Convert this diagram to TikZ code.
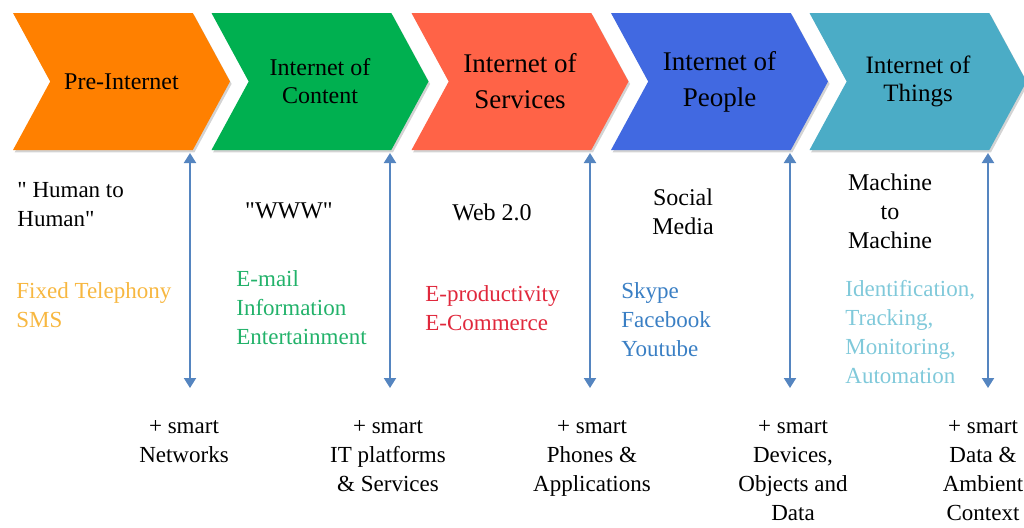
\documentclass[tikz,border=0pt]{standalone}
\usepackage{fontspec}
\setmainfont{Liberation Serif}
\newfontfamily\plainserif{Liberation Serif}
\usepackage{tikz}
\usetikzlibrary{shapes.symbols, arrows.meta, positioning, shadows}
\definecolor{PreOrange}{HTML}{FF8000}
\definecolor{ContentGreen}{HTML}{00B050}
\definecolor{ServiceRed}{HTML}{FF6347}
\definecolor{PeopleBlue}{HTML}{4169E1}
\definecolor{ThingsTeal}{HTML}{4BACC6}
\definecolor{LinkBlue}{HTML}{5585C0}
\definecolor{TelephonyGold}{HTML}{F7B740}
\definecolor{WebGreen}{HTML}{22B26A}
\definecolor{CommerceRed}{HTML}{E0283C}
\definecolor{SocialBlue}{HTML}{3A7FC4}
\definecolor{MachineCyan}{HTML}{80C9DA}
\newcommand{\dq}{{\plainserif"}}

\begin{document}
\begin{tikzpicture}[x=0.5pt, y=-0.5pt,
    phase/.style={signal, signal to=east, signal from=west,
        signal pointer angle=123, minimum width=108.5pt, minimum height=68.5pt,
        inner sep=0pt, align=center, text=black,
        drop shadow={shadow xshift=0.8pt, shadow yshift=-1.2pt, opacity=0.35}},
    body/.style={inner sep=0pt, font=\fontsize{11.5}{14.5}\selectfont},
    keyword/.style={body, anchor=north, align=center,
        font=\fontsize{12}{14.5}\selectfont},
    usage/.style={body, anchor=north west, align=left},
    smart/.style={body, anchor=north, align=center},
    divider/.style={draw=LinkBlue, line width=1pt,
        {Triangle[width=6pt,length=5pt]}-{Triangle[width=6pt,length=5pt]}}]
\useasboundingbox (0,0) rectangle (1024,527);

\node[phase, fill=PreOrange, font=\fontsize{12}{14}\selectfont]
    (pre) at (121.5,81.5) {Pre-Internet};
\node[phase, fill=ContentGreen, font=\fontsize{12}{14}\selectfont]
    (content) at (320,81.5) {Internet of\\Content};
\node[phase, fill=ServiceRed, font=\fontsize{13.5}{18}\selectfont]
    (services) at (520,81.5) {Internet of\\Services};
\node[phase, fill=PeopleBlue, font=\fontsize{13.5}{18}\selectfont]
    (people) at (719.5,81.5) {Internet of\\People};
\node[phase, fill=ThingsTeal, font=\fontsize{12.5}{14}\selectfont]
    (things) at (918,81.5) {Internet of\\Things};

\coordinate (top1) at (190,153);
\coordinate (bot1) at (190,388);
\coordinate (top2) at (390,153);
\coordinate (bot2) at (390,388);
\coordinate (top3) at (590,153);
\coordinate (bot3) at (590,388);
\coordinate (top4) at (790,153);
\coordinate (bot4) at (790,388);
\coordinate (top5) at (988,153);
\coordinate (bot5) at (988,388);
\draw[divider] (top1) -- (bot1);
\draw[divider] (top2) -- (bot2);
\draw[divider] (top3) -- (bot3);
\draw[divider] (top4) -- (bot4);
\draw[divider] (top5) -- (bot5);

\node[usage] (human) at (17,182) {\dq\ Human to\\Human\dq};
\node[usage, text=TelephonyGold] (telephony) at (16,282) {Fixed Telephony\\SMS};
\node[keyword] (www) at (289,202) {\dq WWW\dq};
\node[usage, text=WebGreen] (email) at (236,270)
    {E-mail\\Information\\Entertainment};
\node[keyword] (web) at (492,203) {Web 2.0};
\node[usage, text=CommerceRed] (eprod) at (425,285)
    {E-productivity\\E-Commerce};
\node[keyword] (social) at (683,188) {Social\\Media};
\node[usage, text=SocialBlue] (skype) at (621,282)
    {Skype\\Facebook\\Youtube};
\node[keyword] (m2m) at (890,173) {Machine\\to\\Machine};
\node[usage, text=MachineCyan] (ident) at (845,280)
    {Identification,\\Tracking,\\Monitoring,\\Automation};

\node[smart] (nets) at (184,420) {+ smart\\Networks};
\node[smart] (platforms) at (388,420) {+ smart\\IT platforms\\\& Services};
\node[smart] (phones) at (592,420) {+ smart\\Phones \&\\Applications};
\node[smart] (devices) at (793,420) {+ smart\\Devices,\\Objects and\\Data};
\node[smart] (ambient) at (983,420) {+ smart\\Data \&\\Ambient\\Context};
\end{tikzpicture}
\end{document}
